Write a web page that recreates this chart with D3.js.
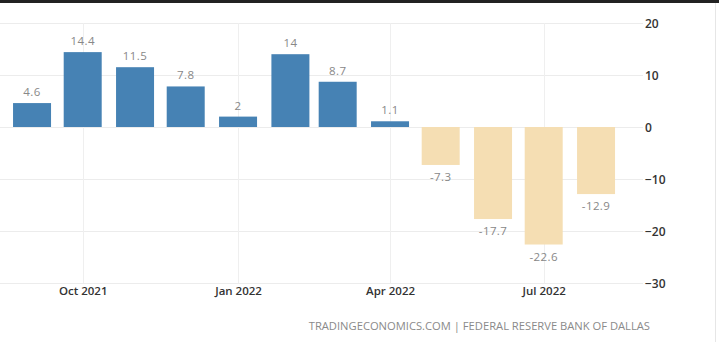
<!DOCTYPE html>
<html>
<head>
<meta charset="utf-8">
<script src="https://cdn.jsdelivr.net/npm/d3@7"></script>
<style>
  html, body { margin: 0; padding: 0; background: #ffffff; }
  svg { display: block; }
</style>
</head>
<body>
<svg id="chart" width="719" height="342"></svg>
<script>
// Texas manufacturing outlook survey, monthly readings
const months = ["2021-09", "2021-10", "2021-11", "2021-12", "2022-01", "2022-02",
                "2022-03", "2022-04", "2022-05", "2022-06", "2022-07", "2022-08"];
const values = [4.6, 14.4, 11.5, 7.8, 2, 14, 8.7, 1.1, -7.3, -17.7, -22.6, -12.9];
const yTicks = [20, 10, 0, -10, -20, -30];
const xTickDates = ["2021-10", "2022-01", "2022-04", "2022-07"];
const sourceText = "TRADINGECONOMICS.COM | FEDERAL RESERVE BANK OF DALLAS";

const parse = d3.timeParse("%Y-%m");
const data = months.map((m, i) => ({ date: parse(m), value: values[i] }));

const W = 719, H = 342;
const plotLeft = 0, plotRight = 643;
const svg = d3.select("#chart");

// top dark strip and right-hand frame edge
svg.append("rect").attr("x", 0).attr("y", 0).attr("width", W).attr("height", 3).attr("fill", "#222222");
svg.append("line").attr("x1", 715.5).attr("x2", 715.5).attr("y1", 3).attr("y2", H)
  .attr("stroke", "#e6e6e6").attr("stroke-width", 1);

const x = d3.scaleTime()
  .domain([parse("2021-10"), parse("2022-07")])
  .range([82.7, 543.7]);

const y = d3.scaleLinear()
  .domain([-30, 20])
  .range([283, 23]);

// horizontal grid lines
svg.append("g").selectAll("line").data(yTicks).join("line")
  .attr("x1", plotLeft).attr("x2", plotRight)
  .attr("y1", d => Math.round(y(d)) + 0.5).attr("y2", d => Math.round(y(d)) + 0.5)
  .attr("stroke", "#ececec").attr("stroke-width", 1);

// vertical grid lines at quarter starts
svg.append("g").selectAll("line").data(xTickDates.map(parse)).join("line")
  .attr("x1", d => Math.round(x(d)) + 0.5).attr("x2", d => Math.round(x(d)) + 0.5)
  .attr("y1", y(20)).attr("y2", y(-30))
  .attr("stroke", "#efefef").attr("stroke-width", 1);

// bars
const barW = 38;
svg.append("g").selectAll("rect").data(data).join("rect")
  .attr("x", d => x(d.date) - barW / 2)
  .attr("width", barW)
  .attr("y", d => y(Math.max(0, d.value)))
  .attr("height", d => Math.abs(y(d.value) - y(0)))
  .attr("fill", d => d.value >= 0 ? "#4682b4" : "#f5deb3");

// value labels
svg.append("g").selectAll("text").data(data).join("text")
  .attr("x", d => x(d.date))
  .attr("y", d => d.value >= 0 ? y(d.value) - 7 : y(d.value) + 16)
  .attr("text-anchor", "middle")
  .attr("font-family", "'Open Sans', sans-serif")
  .attr("font-size", 11.5)
  .attr("fill", "#888888")
  .attr("letter-spacing", 0.4)
  .text(d => String(d.value));

// right-hand value axis
const yAxis = d3.axisRight(y).tickValues(yTicks).tickSize(0).tickPadding(0);
const gy = svg.append("g").attr("transform", `translate(${plotRight + 2},0)`).call(yAxis);
gy.select(".domain").remove();
gy.selectAll("text")
  .attr("font-family", "'Open Sans', sans-serif")
  .attr("font-size", 12)
  .attr("font-weight", 600)
  .attr("fill", "#333333")
  .attr("dy", "0.35em");

// time axis labels
const xAxis = d3.axisBottom(x).tickValues(xTickDates.map(parse))
  .tickFormat(d3.timeFormat("%b %Y")).tickSize(0).tickPadding(0);
const gx = svg.append("g").attr("transform", `translate(0,${y(-30) + 4})`).call(xAxis);
gx.select(".domain").remove();
gx.selectAll("text")
  .attr("font-family", "'Open Sans', sans-serif")
  .attr("font-size", 11.5)
  .attr("font-weight", 600)
  .attr("fill", "#333333")
  .attr("dy", "0.71em");

// source line
svg.append("text")
  .attr("x", 650).attr("y", 330)
  .attr("text-anchor", "end")
  .attr("font-family", "'Open Sans', sans-serif")
  .attr("font-size", 11.2)
  .attr("fill", "#8a8a8a")
  .text(sourceText);
</script>
</body>
</html>
